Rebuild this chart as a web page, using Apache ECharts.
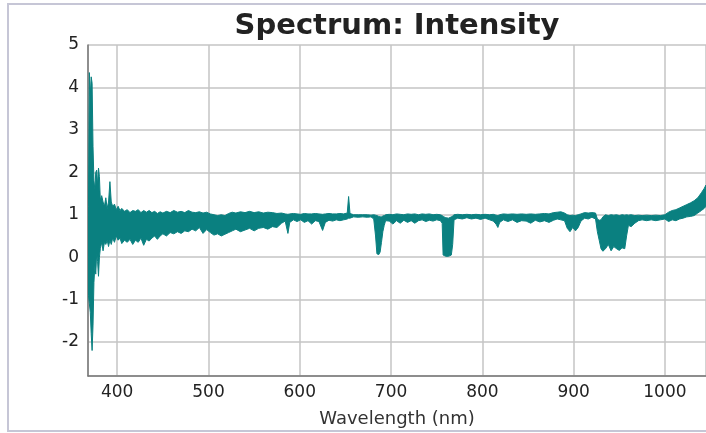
<!DOCTYPE html>
<html>
<head>
<meta charset="utf-8">
<script src="https://cdn.jsdelivr.net/npm/echarts@6/dist/echarts.min.js"></script>
<style>
  html, body { margin: 0; padding: 0; background: #fff; overflow: hidden; }
  #frame { position: absolute; left: 7px; top: 3px; width: 760px; height: 425px; border: 2px solid #c6c6d6; }
  #chart { position: absolute; left: 0; top: 0; width: 706px; height: 433px; }
</style>
</head>
<body>
<div id="frame"></div>
<div id="chart"></div>
<script>
// wavelength (nm) with the upper and lower edge of the noisy trace
var wl = [368.5, 369.5, 370.5, 371.5, 372.5, 373.5, 374.5, 375.5, 376.5, 377.5, 378.5, 379.5, 380.5, 381.5, 383, 384.5, 386, 387.5, 389, 390.5,
  392, 393.5, 395, 397, 399, 401, 403, 405, 408, 411, 414, 417, 420, 423, 426, 429, 432, 435, 438, 441,
  444, 447, 450, 454, 458, 462, 466, 470, 474, 478, 482, 486, 490, 494, 498, 502, 506, 510, 514, 518,
  522, 526, 530, 535, 540, 545, 550, 555, 560, 565, 570, 575, 580, 584, 587, 589, 593, 597, 601, 605,
  609, 613, 617, 621, 625, 628, 632, 636, 640, 644, 648, 652, 653.5, 655, 659, 664, 669, 674, 678, 681,
  683, 684.5, 686.5, 688, 689.5, 691, 692.5, 694, 698, 702, 706, 710, 714, 718, 722, 726, 730, 734, 738, 742,
  746, 750, 754, 756, 757, 760, 763, 766, 767.5, 769, 773, 778, 783, 788, 793, 798, 803, 808, 812, 815,
  817, 819, 823, 828, 833, 838, 843, 848, 853, 858, 863, 868, 873, 878, 882, 886, 890, 893, 896, 899,
  902, 905, 908, 912, 916, 920, 924, 926, 928, 930, 932, 935, 938, 941, 944, 947, 950, 953, 956, 958,
  960, 963, 967, 971, 975, 980, 985, 990, 995, 1000, 1004, 1008, 1012, 1016, 1020, 1024, 1028, 1032, 1036, 1040,
  1043, 1045];
var hi = [1.2, 4.35, 3.8, 4.25, 4.1, 2.6, 1.8, 1.6, 2.0, 2.05, 1.7, 2.1, 1.9, 1.35, 1.45, 1.3, 1.2, 1.4, 1.15, 1.3,
  1.78, 1.3, 1.2, 1.25, 1.12, 1.2, 1.1, 1.15, 1.08, 1.12, 1.05, 1.1, 1.08, 1.12, 1.05, 1.1, 1.06, 1.1, 1.05, 1.08,
  1.03, 1.07, 1.04, 1.08, 1.05, 1.1, 1.06, 1.08, 1.05, 1.1, 1.06, 1.05, 1.07, 1.04, 1.06, 1.02, 1.0, 0.98, 1.0, 0.98,
  1.03, 1.06, 1.04, 1.07, 1.05, 1.08, 1.05, 1.07, 1.04, 1.06, 1.05, 1.03, 1.04, 1.02, 1.01, 1.02, 1.03, 1.02, 1.01, 1.03,
  1.02, 1.02, 1.03, 1.02, 1.01, 1.02, 1.03, 1.02, 1.02, 1.03, 1.02, 1.04, 1.43, 1.03, 1.0, 1.0, 1.0, 1.0, 0.99, 1.0,
  0.99, 0.98, 0.96, 0.95, 0.95, 0.97, 0.98, 1.0, 1.01, 1.0, 1.02, 1.01, 1.0, 1.02, 1.01, 1.02, 1.0, 1.02, 1.01, 1.02,
  1.0, 1.01, 1.0, 0.98, 0.96, 0.93, 0.92, 0.95, 0.97, 1.0, 1.01, 1.0, 1.01, 1.0, 1.01, 1.0, 1.01, 1.0, 1.01, 0.99,
  0.98, 1.0, 1.02, 1.01, 1.02, 1.01, 1.02, 1.01, 1.02, 1.01, 1.02, 1.03, 1.02, 1.05, 1.06, 1.07, 1.04, 1.0, 0.98, 0.99,
  0.98, 1.0, 1.02, 1.05, 1.04, 1.05, 1.04, 0.9, 0.87, 0.88, 0.95, 1.0, 0.98, 1.0, 0.99, 1.0, 0.98, 1.0, 0.99, 1.0,
  0.99, 1.0, 0.98, 0.99, 0.98, 0.99, 0.98, 0.99, 0.98, 1.0, 1.06, 1.1, 1.12, 1.16, 1.2, 1.24, 1.28, 1.33, 1.4, 1.52,
  1.62, 1.7];
var lo = [-0.9, -1.1, -1.3, -1.8, -2.2, -1.6, -0.6, -0.2, -0.4, 0.1, -0.1, -0.45, 0.0, 0.2, 0.35, 0.15, 0.35, 0.3, 0.4, 0.25,
  0.4, 0.3, 0.45, 0.35, 0.5, 0.4, 0.45, 0.32, 0.4, 0.35, 0.42, 0.3, 0.4, 0.35, 0.45, 0.28, 0.42, 0.38, 0.45, 0.5,
  0.42, 0.5, 0.55, 0.5, 0.58, 0.55, 0.6, 0.56, 0.62, 0.6, 0.66, 0.62, 0.7, 0.56, 0.65, 0.58, 0.52, 0.55, 0.5, 0.54,
  0.58, 0.62, 0.66, 0.6, 0.64, 0.68, 0.62, 0.68, 0.7, 0.66, 0.72, 0.7, 0.8, 0.85, 0.56, 0.82, 0.88, 0.84, 0.88, 0.82,
  0.86, 0.78, 0.86, 0.84, 0.63, 0.82, 0.87, 0.85, 0.88, 0.86, 0.88, 0.9, 0.92, 0.92, 0.95, 0.94, 0.95, 0.94, 0.95, 0.9,
  0.5, 0.08, 0.06, 0.12, 0.35, 0.6, 0.75, 0.86, 0.85, 0.78, 0.86, 0.8, 0.87, 0.82, 0.86, 0.8, 0.86, 0.88, 0.84, 0.87,
  0.85, 0.88, 0.86, 0.8, 0.05, 0.02, 0.02, 0.05, 0.3, 0.88, 0.92, 0.9, 0.93, 0.9, 0.92, 0.89, 0.92, 0.88, 0.85, 0.78,
  0.7, 0.82, 0.88, 0.84, 0.88, 0.82, 0.86, 0.85, 0.8, 0.87, 0.83, 0.86, 0.82, 0.87, 0.9, 0.88, 0.86, 0.68, 0.6, 0.7,
  0.62, 0.7, 0.85, 0.92, 0.9, 0.94, 0.9, 0.6, 0.4, 0.2, 0.14, 0.2, 0.3, 0.15, 0.25, 0.2, 0.16, 0.22, 0.2, 0.5,
  0.75, 0.72, 0.8, 0.86, 0.88, 0.86, 0.88, 0.86, 0.88, 0.9, 0.84, 0.88, 0.86, 0.9, 0.92, 0.95, 0.96, 0.98, 1.04, 1.1,
  1.15, 1.2];

var xMin = 368, xMax = 1045;
var yMin = -2.8, yMax = 5;

var teal = '#0a8080';
var font = 'DejaVu Sans';

var chart = echarts.init(document.getElementById('chart'));
var option = {
  animation: false,
  title: {
    text: 'Spectrum: Intensity',
    left: 392,
    top: 7,
    textAlign: 'center',
    textStyle: { fontFamily: font, fontSize: 29, fontWeight: 'bold', color: '#222' }
  },
  grid: { left: 88, right: 0, top: 45, bottom: 57, outerBoundsMode: 'none', containLabel: false },
  xAxis: {
    type: 'value',
    min: xMin,
    max: xMax,
    minInterval: 100,
    maxInterval: 100,
    name: 'Wavelength (nm)',
    nameLocation: 'middle',
    nameGap: 34,
    nameTextStyle: { fontFamily: font, fontSize: 18, color: '#333' },
    axisLine: { onZero: false, lineStyle: { color: '#777', width: 1.5 } },
    axisTick: { show: false },
    axisLabel: {
      fontFamily: font, fontSize: 17, color: '#222', margin: 8,
      showMinLabel: false, showMaxLabel: false,
      formatter: function (v) { return String(v); }
    },
    splitLine: { show: true, lineStyle: { color: '#c4c4c4', width: 1.5 } }
  },
  yAxis: {
    type: 'value',
    min: yMin,
    max: yMax,
    minInterval: 1,
    maxInterval: 1,
    axisLine: { show: true, onZero: false, lineStyle: { color: '#777', width: 1.5 } },
    axisTick: { show: false },
    axisLabel: { fontFamily: font, fontSize: 17, color: '#222', margin: 9, showMinLabel: false },
    splitLine: { show: true, lineStyle: { color: '#c4c4c4', width: 1.5 } }
  },
  series: [
    {
      name: 'Intensity',
      type: 'custom',
      coordinateSystem: 'cartesian2d',
      clip: true,
      data: [[wl[0], hi[0]]],
      renderItem: function (params, api) {
        var pts = [];
        for (var i = 0; i < wl.length; i++) pts.push(api.coord([wl[i], hi[i]]));
        for (var j = wl.length - 1; j >= 0; j--) pts.push(api.coord([wl[j], lo[j]]));
        return {
          type: 'polygon',
          shape: { points: pts },
          style: { fill: teal, stroke: teal, lineWidth: 1 }
        };
      }
    }
  ]
};
chart.setOption(option);
</script>
</body>
</html>
